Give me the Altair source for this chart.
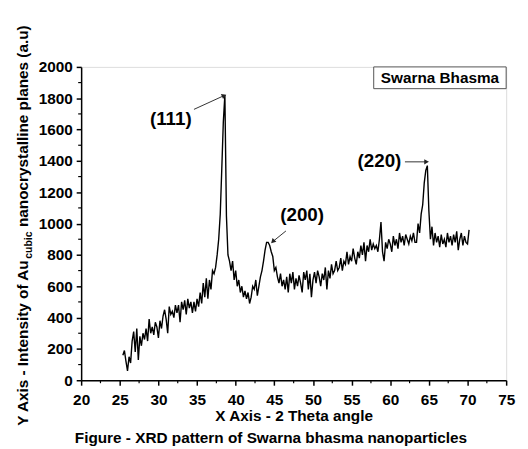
import altair as alt
import numpy as np
import pandas as pd

# 2-theta scan grid (deg) and intensity (a.u)
two_theta = np.round(np.arange(25.4, 70.21, 0.2), 1).tolist()
intensity = [
    160, 190, 120, 60, 150,
    110, 250, 310, 180, 330,
    130, 280, 220, 300, 260,
    330, 250, 390, 300, 340,
    290, 370, 340, 270, 380,
    330, 410, 450, 390, 300,
    470, 420, 440, 400, 480,
    430, 480, 370, 500, 450,
    510, 420, 520, 460, 500,
    430, 500, 440, 520, 470,
    560, 490, 620, 530, 650,
    520, 640, 580, 700, 680,
    720, 800, 900, 1060, 1350,
    1650, 1820, 1050, 800, 760,
    700, 760, 640, 700, 600,
    640, 560, 600, 530, 570,
    520, 560, 490, 530, 600,
    580, 640, 540, 600, 660,
    700, 760, 830, 880, 880,
    860, 820, 790, 700, 720,
    660, 620, 680, 600, 640,
    580, 660, 560, 680, 620,
    690, 580, 650, 600, 670,
    620, 560, 690, 640, 700,
    580, 680, 530, 640, 690,
    620, 700, 660, 600, 680,
    640, 720, 580, 700, 650,
    740, 680, 700, 760, 700,
    720, 780, 700, 760, 740,
    820, 740, 790, 760, 840,
    780, 740, 820, 780, 860,
    800, 880, 760, 860, 820,
    900, 830, 870, 840, 860,
    820, 900, 1010, 820, 760,
    880, 840, 900, 870, 820,
    920, 860, 900, 840, 940,
    880, 920, 860, 930, 900,
    870, 920, 890, 940, 880,
    880, 1000, 940, 1060, 1120,
    1260, 1340, 1370, 1080, 900,
    980, 860, 940, 880, 920,
    850, 930, 870, 900, 850,
    940, 880, 920, 860, 930,
    880, 950, 830, 900, 940,
    860, 920, 880, 870, 960,
]

x_ticks = [20, 25, 30, 35, 40, 45, 50, 55, 60, 65, 70, 75]
x_minor = [22.5, 27.5, 32.5, 37.5, 42.5, 47.5, 52.5, 57.5, 62.5, 67.5, 72.5]
y_ticks = [0, 200, 400, 600, 800, 1000, 1200, 1400, 1600, 1800, 2000]
y_minor = [100, 300, 500, 700, 900, 1100, 1300, 1500, 1700, 1900]

peak_labels = ["(111)", "(200)", "(220)"]
label_x = [31.6, 48.6, 58.6]
label_y = [1666, 1054, 1401]
arrow_x = [34.6, 46.5, 61.9]
arrow_y = [1729, 953, 1394]
arrow_x2 = [38.5, 44.8, 64.7]
arrow_y2 = [1817, 885, 1394]
arrow_angle = [336, 135, 0]

legend_text = "Swarna Bhasma"
caption = "Figure - XRD pattern of Swarna bhasma nanoparticles"

W, H = 430, 317
FONT = "Liberation Sans"
FS = 15.5

df = pd.DataFrame({"two_theta": two_theta, "intensity": intensity})
ann = pd.DataFrame({"label": peak_labels, "lx": label_x, "ly": label_y,
                    "ax": arrow_x, "ay": arrow_y, "ax2": arrow_x2, "ay2": arrow_y2,
                    "ang": arrow_angle})
xmin_df = pd.DataFrame({"v": x_minor})
ymin_df = pd.DataFrame({"v": y_minor})
one = pd.DataFrame({"k": [0]})

xscale = alt.Scale(domain=[20, 75], nice=False, zero=False)
yscale = alt.Scale(domain=[0, 2000], nice=False)

xaxis = alt.Axis(values=x_ticks, title="X Axis - 2 Theta angle", grid=False, format="d",
                 labelOverlap=False,
                 labelFont=FONT, labelFontSize=FS, labelFontWeight="bold", labelColor="black",
                 labelBaseline="alphabetic", labelPadding=20, labelFlush=False,
                 tickSize=5, tickWidth=1.5, tickColor="black", domainColor="black", domainWidth=1.5,
                 titleFont=FONT, titleFontSize=FS, titleFontWeight="bold", titleColor="black",
                 titleBaseline="alphabetic", titleY=41, titleX=W / 2)
yaxis = alt.Axis(values=y_ticks, title=None, grid=False, format="d", labelOverlap=False,
                 labelFont=FONT, labelFontSize=FS, labelFontWeight="bold", labelColor="black",
                 labelPadding=4, labelFlush=False,
                 tickSize=5, tickWidth=1.5, tickColor="black", domainColor="black", domainWidth=1.5)

def X(field):
    return alt.X(field, scale=xscale, axis=xaxis, title="X Axis - 2 Theta angle")

def Y(field):
    return alt.Y(field, scale=yscale, axis=yaxis, title=None)

line = alt.Chart(df).mark_line(color="black", strokeWidth=1.4).encode(
    x=X("two_theta:Q"), y=Y("intensity:Q"))

xminor = alt.Chart(xmin_df).mark_rule(color="black", strokeWidth=1.2).encode(
    x=X("v:Q"), y=alt.value(H), y2=alt.value(H + 3))
yminor = alt.Chart(ymin_df).mark_rule(color="black", strokeWidth=1.2).encode(
    y=Y("v:Q"), x=alt.value(-3), x2=alt.value(0))

legend_box = alt.Chart(one).mark_rect(fill="white", stroke="#555555", strokeWidth=1).encode(
    x=alt.value(296), x2=alt.value(W), y=alt.value(0), y2=alt.value(22))
legend_txt = alt.Chart(one).mark_text(text=legend_text, font=FONT, fontSize=FS, fontWeight="bold",
                                      color="black", align="center", baseline="alphabetic").encode(
    x=alt.value(363), y=alt.value(16))

arrows = alt.Chart(ann).mark_rule(color="#333333", strokeWidth=1).encode(
    x=X("ax:Q"), y=Y("ay:Q"), x2="ax2:Q", y2="ay2:Q")
heads = alt.Chart(ann).mark_point(shape="triangle-right", filled=True, color="#222222",
                                  size=30, opacity=1).encode(
    x=X("ax2:Q"), y=Y("ay2:Q"), angle=alt.Angle("ang:Q", scale=None))
labels = alt.Chart(ann).mark_text(font=FONT, fontSize=19, fontWeight="bold", color="black",
                                  align="center", baseline="middle").encode(
    x=X("lx:Q"), y=Y("ly:Q"), text="label:N")

ytitle_main = alt.Chart(one).mark_text(text="Y Axis - Intensity of Au", font=FONT, fontSize=FS,
                                       fontWeight="bold", color="black", angle=270,
                                       align="left", baseline="alphabetic").encode(
    x=alt.value(-54), y=alt.value(363))
ytitle_sub = alt.Chart(one).mark_text(text="cubic", font=FONT, fontSize=10.5,
                                      fontWeight="bold", color="black", angle=270,
                                      align="left", baseline="alphabetic").encode(
    x=alt.value(-50), y=alt.value(194))
ytitle_rest = alt.Chart(one).mark_text(text="nanocrystalline planes (a.u)", font=FONT, fontSize=FS,
                                       fontWeight="bold", color="black", angle=270,
                                       align="left", baseline="alphabetic").encode(
    x=alt.value(-54), y=alt.value(162))
cap = alt.Chart(one).mark_text(text=caption, font=FONT, fontSize=FS, fontWeight="bold",
                               color="black", align="center", baseline="alphabetic").encode(
    x=alt.value(192), y=alt.value(380))

chart = alt.layer(
    line, xminor, yminor, legend_box, legend_txt, arrows, heads, labels,
    ytitle_main, ytitle_sub, ytitle_rest, cap
).properties(
    width=W, height=H,
    autosize=alt.AutoSizeParams(type="none"),
    padding={"left": 74, "top": 57, "right": 14, "bottom": 70},
).configure_view(stroke="black", strokeWidth=1.5).configure(background="white")

chart.save("out.html", embed_options={"renderer": "svg", "actions": False})
